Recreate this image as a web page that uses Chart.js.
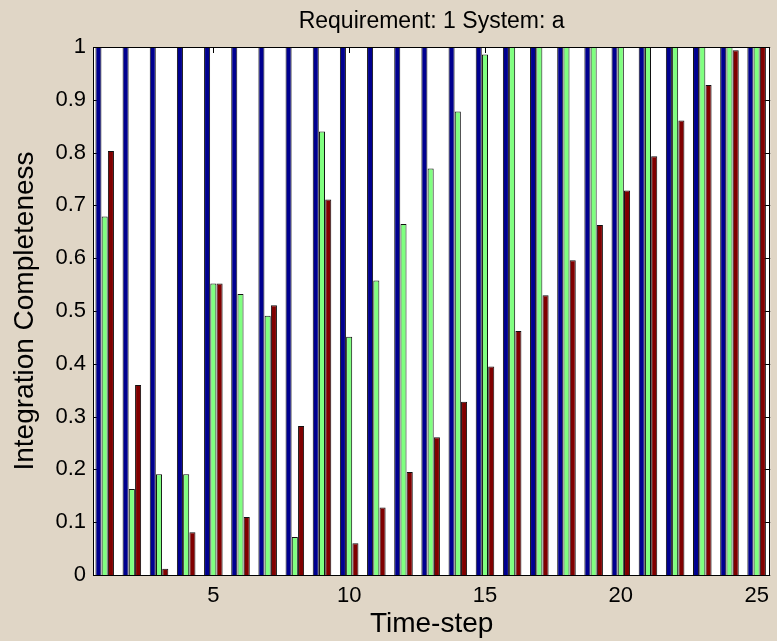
<!DOCTYPE html>
<html>
<head>
<meta charset="utf-8">
<script src="https://cdn.jsdelivr.net/npm/chart.js@4"></script>
<style>
  body { margin: 0; background: #E0D6C6; }
  canvas { display: block; }
</style>
</head>
<body>
<canvas id="graficoBarras" width="777" height="641"></canvas>
<script>
const passos = [1, 2, 3, 4, 5, 6, 7, 8, 9, 10, 11, 12, 13, 14, 15, 16, 17, 18, 19, 20, 21, 22, 23, 24, 25];
const serieAzul = [1, 1, 1, 1, 1, 1, 1, 1, 1, 1, 1, 1, 1, 1, 1, 1, 1, 1, 1, 1, 1, 1, 1, 1, 1];
const serieVerde = [0.679, 0.163, 0.191, 0.191, 0.552, 0.532, 0.491, 0.072, 0.840, 0.451, 0.558, 0.665, 0.770, 0.878, 0.986, 1, 1, 1, 1, 1, 1, 1, 1, 1, 1];
const serieVermelha = [0.803, 0.360, 0.012, 0.081, 0.552, 0.110, 0.511, 0.282, 0.711, 0.060, 0.128, 0.195, 0.261, 0.328, 0.395, 0.462, 0.530, 0.596, 0.663, 0.728, 0.793, 0.861, 0.928, 0.994, 1];
const ticksX = [5, 10, 15, 20, 25];
const ticksY = [0, 0.1, 0.2, 0.3, 0.4, 0.5, 0.6, 0.7, 0.8, 0.9, 1];

const fonte = "'Liberation Sans', Arial, sans-serif";

// fundo branco + ticks para dentro (estilo matlab) + caixa
const eixoMatlab = {
    id: 'eixoMatlab',
    beforeDatasetsDraw(chart) {
        const { ctx, chartArea: a, scales } = chart;
        ctx.save();
        ctx.fillStyle = '#fff';
        ctx.fillRect(a.left, a.top, a.right - a.left, a.bottom - a.top);
        ctx.strokeStyle = '#000';
        ctx.lineWidth = 1;
        ctx.beginPath();
        ticksY.forEach(v => {
            const y = Math.round(scales.y.getPixelForValue(v)) + 0.5;
            ctx.moveTo(a.left, y); ctx.lineTo(a.left + 6, y);
            ctx.moveTo(a.right, y); ctx.lineTo(a.right - 6, y);
        });
        ticksX.forEach(v => {
            const x = Math.round(scales.x.getPixelForValue(v)) + 0.5;
            ctx.moveTo(x, a.bottom); ctx.lineTo(x, a.bottom - 6);
            ctx.moveTo(x, a.top); ctx.lineTo(x, a.top + 6);
        });
        ctx.stroke();
        ctx.restore();
    },
    afterDatasetsDraw(chart) {
        const { ctx, chartArea: a } = chart;
        ctx.save();
        ctx.strokeStyle = '#000';
        ctx.lineWidth = 1;
        ctx.strokeRect(Math.round(a.left) + 0.5, Math.round(a.top) + 0.5,
            Math.round(a.right - a.left) - 1, Math.round(a.bottom - a.top));
        ctx.restore();
    }
};

const ctxBarras = document.getElementById('graficoBarras').getContext('2d');
new Chart(ctxBarras, {
    type: 'bar',
    data: {
        datasets: [
            { label: 'Azul', data: passos.map((p, i) => ({ x: p, y: serieAzul[i] })), backgroundColor: '#00008F' },
            { label: 'Verde', data: passos.map((p, i) => ({ x: p, y: serieVerde[i] })), backgroundColor: '#80FF80' },
            { label: 'Vermelho', data: passos.map((p, i) => ({ x: p, y: serieVermelha[i] })), backgroundColor: '#800000' }
        ]
    },
    options: {
        responsive: false,
        animation: false,
        layout: { padding: { right: 1 } },
        datasets: {
            bar: {
                borderColor: '#111',
                borderWidth: 1,
                categoryPercentage: 0.69,
                barPercentage: 0.97
            }
        },
        plugins: {
            legend: { display: false },
            tooltip: { enabled: false }
        },
        scales: {
            x: {
                type: 'linear',
                offset: false,
                min: 0.57,
                max: 25.5,
                grid: { display: false, drawTicks: false, offset: false },
                border: { display: false },
                afterBuildTicks: s => { s.ticks = ticksX.map(v => ({ value: v })); },
                afterFit: s => { s.height = 66; },
                ticks: { color: '#000', padding: 8, maxRotation: 0, font: { family: fonte, size: 22 } },
                title: {
                    display: true,
                    text: 'Time-step',
                    color: '#000',
                    font: { family: fonte, size: 28 },
                    padding: { top: 0, bottom: 0 }
                }
            },
            // eixo de cima só para o título, centrado sobre a área do gráfico
            topo: {
                type: 'linear',
                position: 'top',
                offset: false,
                min: 0.57,
                max: 25.5,
                grid: { display: false, drawTicks: false },
                border: { display: false },
                ticks: { display: false },
                afterFit: s => { s.height = 47; },
                title: {
                    display: true,
                    text: 'Requirement: 1 System: a',
                    color: '#000',
                    font: { family: fonte, size: 23 },
                    padding: { top: 8, bottom: 0 }
                }
            },
            y: {
                min: 0,
                max: 1,
                grid: { display: false, drawTicks: false },
                border: { display: false },
                afterBuildTicks: s => { s.ticks = ticksY.map(v => ({ value: v })); },
                afterFit: s => { s.width = 93; },
                ticks: {
                    color: '#000',
                    padding: 7,
                    font: { family: fonte, size: 22 },
                    callback: v => String(+v.toFixed(1))
                },
                title: {
                    display: true,
                    text: 'Integration Completeness',
                    color: '#000',
                    font: { family: fonte, size: 28 },
                    padding: { top: 8, bottom: 0 }
                }
            }
        }
    },
    plugins: [eixoMatlab]
});
</script>
</body>
</html>
